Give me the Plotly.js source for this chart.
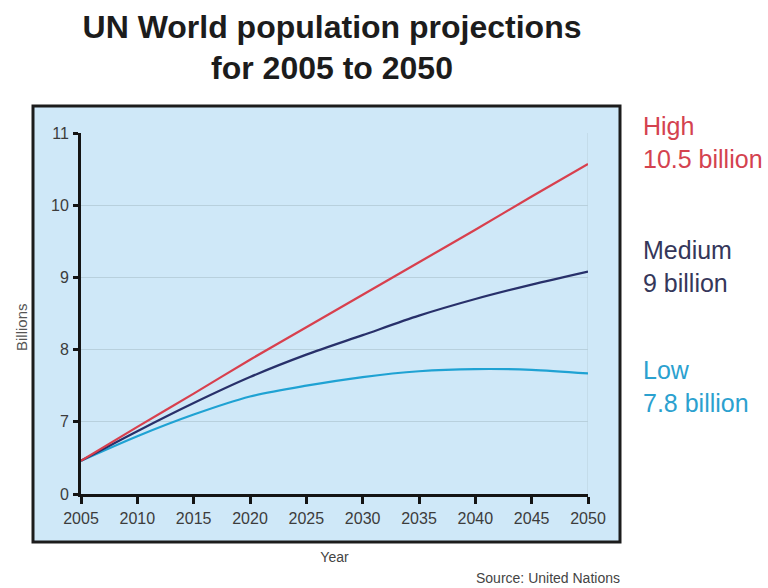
<!DOCTYPE html>
<html>
<head>
<meta charset="utf-8">
<script src="https://cdn.plot.ly/plotly-3.0.1.min.js"></script>
<style>
  html, body { margin: 0; padding: 0; background: #ffffff; }
  #chart { width: 768px; height: 588px; }
</style>
</head>
<body>
<div id="chart"></div>
<script>
// Projection years
const years = [2005, 2010, 2015, 2020, 2025, 2030, 2035, 2040, 2045, 2050];

// World population, billions, by variant
const highVariant   = [6.46, 6.93, 7.39, 7.86, 8.31, 8.76, 9.21, 9.66, 10.12, 10.57];
const mediumVariant = [6.46, 6.87, 7.26, 7.62, 7.93, 8.20, 8.47, 8.70, 8.90, 9.08];
const lowVariant    = [6.46, 6.80, 7.10, 7.35, 7.50, 7.62, 7.70, 7.73, 7.72, 7.67];

// Y axis is broken: the bottom tick reads 0 but sits at 6
const yTickVals = [6, 7, 8, 9, 10, 11];
const yTickText = ['0', '7', '8', '9', '10', '11'];

// Variant names and their 2050 totals shown at the right
const variantNames = ['High', 'Medium', 'Low'];
const variantTotals = ['10.5 billion', '9 billion', '7.8 billion'];

const colors = {
  high: '#d8404e',
  medium: '#28306a',
  low: '#1fa2d3',
  highText: '#d4424f',
  mediumText: '#35375a',
  lowText: '#2ba1cf'
};

const FONT = 'Liberation Sans, Arial, Helvetica, sans-serif';

function series(y, color) {
  return {
    x: years,
    y: y,
    type: 'scatter',
    mode: 'lines',
    line: { color: color, width: 2.2, shape: 'spline', smoothing: 0.8 },
    hoverinfo: 'x+y',
    showlegend: false
  };
}

const data = [
  series(lowVariant, colors.low),
  series(mediumVariant, colors.medium),
  series(highVariant, colors.high)
];

const layout = {
  width: 768,
  height: 588,
  margin: { l: 81, r: 180, t: 133, b: 94, pad: 0 },
  paper_bgcolor: '#ffffff',
  plot_bgcolor: 'rgba(0,0,0,0)',
  showlegend: false,
  title: {
    text: 'UN World population projections<br>for 2005 to 2050',
    font: { family: FONT, size: 32, color: '#1c1c1c', weight: 'bold' },
    x: 332 / 768,
    xanchor: 'center',
    xref: 'container',
    y: 0.936,
    yref: 'container',
    yanchor: 'top'
  },
  xaxis: {
    range: [2005, 2050],
    tickvals: years,
    ticktext: years.map(String),
    showgrid: false,
    zeroline: false,
    showline: true,
    linecolor: '#141414',
    linewidth: 3,
    ticks: 'outside',
    ticklen: 7,
    tickwidth: 3,
    tickcolor: '#141414',
    ticklabelstandoff: 1,
    tickfont: { family: FONT, size: 16, color: '#3c3c3c' },
    title: {
      text: 'Year',
      font: { family: FONT, size: 14, color: '#444444' },
      standoff: 26
    },
    automargin: false,
    fixedrange: true
  },
  yaxis: {
    range: [6, 11],
    tickvals: yTickVals,
    ticktext: yTickText,
    showgrid: true,
    gridcolor: '#b8d0dd',
    gridwidth: 1,
    zeroline: false,
    showline: true,
    linecolor: '#141414',
    linewidth: 3,
    ticks: 'outside',
    ticklen: 5,
    tickwidth: 3,
    tickcolor: '#141414',
    ticklabelstandoff: 1,
    tickfont: { family: FONT, size: 16, color: '#3c3c3c' },
    automargin: false,
    fixedrange: true
  },
  shapes: [
    // framed light-blue panel behind the plot
    {
      type: 'rect', xref: 'paper', yref: 'paper',
      x0: (33 - 81) / 507, x1: (620 - 81) / 507,
      y0: (494 - 542) / 361, y1: (494 - 106) / 361,
      fillcolor: '#cfe8f8',
      line: { color: '#1c1c1c', width: 3 },
      layer: 'below'
    },
    // right-hand grid edge at the last year
    {
      type: 'line', xref: 'x', yref: 'y',
      x0: 2050, x1: 2050, y0: 6, y1: 11,
      line: { color: '#b8d0dd', width: 1 },
      layer: 'below'
    }
  ],
  annotations: [
    {
      text: 'Billions', textangle: -90,
      xref: 'paper', yref: 'paper',
      x: (21 - 81) / 507, y: (494 - 327) / 361,
      xanchor: 'center', yanchor: 'middle',
      showarrow: false,
      font: { family: FONT, size: 15, color: '#555555' }
    },
    {
      text: variantNames[0] + '<br>' + variantTotals[0],
      xref: 'paper', yref: 'paper',
      x: (641 - 81) / 507, y: (494 - 143) / 361,
      xanchor: 'left', yanchor: 'middle', align: 'left',
      showarrow: false,
      font: { family: FONT, size: 25, color: colors.highText }
    },
    {
      text: variantNames[1] + '<br>' + variantTotals[1],
      xref: 'paper', yref: 'paper',
      x: (641 - 81) / 507, y: (494 - 266) / 361,
      xanchor: 'left', yanchor: 'middle', align: 'left',
      showarrow: false,
      font: { family: FONT, size: 25, color: colors.mediumText }
    },
    {
      text: variantNames[2] + '<br>' + variantTotals[2],
      xref: 'paper', yref: 'paper',
      x: (641 - 81) / 507, y: (494 - 386) / 361,
      xanchor: 'left', yanchor: 'middle', align: 'left',
      showarrow: false,
      font: { family: FONT, size: 25, color: colors.lowText }
    },
    {
      text: 'Source: United Nations',
      xref: 'paper', yref: 'paper',
      x: (622 - 81) / 507, y: (494 - 578) / 361,
      xanchor: 'right', yanchor: 'middle',
      showarrow: false,
      font: { family: FONT, size: 14, color: '#444444' }
    }
  ]
};

Plotly.newPlot('chart', data, layout, { displayModeBar: false, staticPlot: true });
</script>
</body>
</html>
